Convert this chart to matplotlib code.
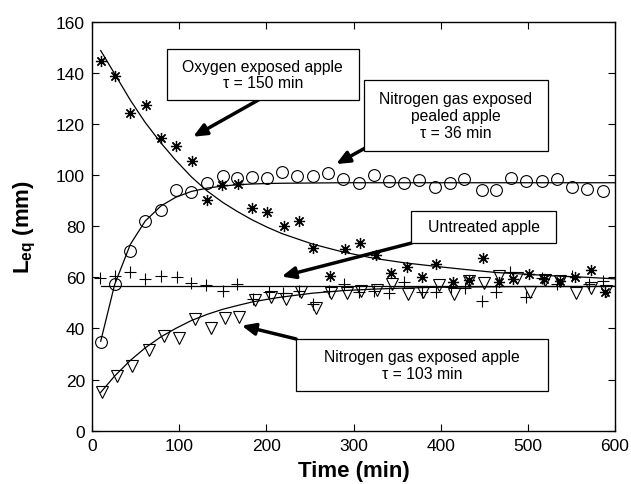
import numpy as np
import matplotlib.pyplot as plt
from matplotlib.patches import Rectangle

plt.rcParams['font.family'] = ['Liberation Sans', 'DejaVu Sans']
plt.rcParams['mathtext.fontset'] = 'custom'
plt.rcParams['mathtext.rm'] = 'Liberation Sans'
plt.rcParams['mathtext.bf'] = 'Liberation Sans:bold'

# oxygen exposed apple (asterisks)
t_oxy = [10, 26, 44, 62, 79, 96, 115, 132, 149, 167, 184, 201, 220, 238, 254, 273, 290,
         308, 326, 343, 361, 378, 395, 414, 432, 448, 467, 483, 501, 519, 537, 554, 573, 589]
L_oxy = [144.5, 138.6, 124.3, 127.5, 114.4, 111.5, 105.5, 90.3, 96, 96.5, 87, 85.7, 80, 82.2,
         71.5, 60.7, 71, 73.3, 68.6, 61.5, 64.2, 60, 65.3, 58, 59, 67.4, 58.3, 59.3, 61.3, 59.3,
         58.7, 60, 63, 54.4]

# nitrogen gas exposed pealed apple (circles)
t_peal = [10, 26, 44, 61, 79, 96, 114, 132, 150, 166, 183, 201, 218, 235, 253, 271, 288,
          306, 324, 341, 358, 375, 394, 411, 427, 447, 463, 481, 498, 516, 533, 551, 568, 586]
L_peal = [34.6, 57.4, 70.4, 82, 86.3, 94.3, 93.3, 96.8, 99.5, 98.7, 99.4, 98.9, 101.2, 99.5,
          99.5, 100.7, 98.3, 96.8, 100.2, 97.6, 96.8, 98.2, 95.5, 96.8, 98.5, 94.3, 94.3, 98.9,
          97.8, 97.8, 98.5, 95.2, 94.6, 93.7]

# untreated apple (plus)
t_untr = [9, 26, 44, 61, 79, 97, 114, 131, 150, 166, 185, 203, 219, 238, 254, 272, 289,
          306, 324, 341, 358, 378, 395, 412, 428, 447, 464, 480, 498, 516, 533, 551, 570, 586]
L_untr = [59.6, 60.6, 62, 59.4, 60.6, 60, 57.8, 57, 54.8, 57.4, 51.7, 54.3, 53.7, 54.8, 49.5,
          54.7, 57.4, 54.4, 54.8, 53.9, 58.3, 54.4, 54.1, 56.1, 55.7, 50.9, 54.4, 62, 52.2, 59.6,
          57.4, 60.6, 57.4, 58.7]

# nitrogen gas exposed apple (triangles)
t_nit = [11, 29, 46, 65, 83, 100, 118, 136, 152, 169, 187, 205, 222, 240, 257, 274, 292,
         309, 327, 344, 363, 380, 398, 415, 433, 450, 467, 487, 503, 520, 537, 555, 573, 590]
L_nit = [15.3, 21.5, 25.4, 31.7, 37.2, 36.4, 43.7, 40.3, 44, 44.4, 51.1, 52.4, 51.5, 54.4, 47.9,
         53.8, 53.8, 54.8, 55.2, 57.4, 53.5, 54.1, 57.1, 53.5, 58.7, 57.8, 60.6, 59.6, 54.4, 59.1,
         58.7, 53.9, 55.7, 54.8]

# fitted curves
t_fit = [10, 26, 44, 61, 79, 96, 114, 132, 150, 166, 183, 201, 218, 253, 288, 324, 358,
         394, 427, 463, 498, 533, 568, 600]
fit_oxy = [148.7, 139.6, 129.3, 120.6, 112.6, 105.8, 99.3, 93.8, 89.3, 85.9, 82.6, 79.6, 77.1,
           73.0, 69.9, 67.4, 65.7, 64.3, 63.1, 61.9, 61.2, 60.5, 60.0, 59.4]
fit_peal = [35.0, 57.2, 72.9, 82.0, 87.9, 91.3, 93.6, 94.9, 95.7, 96.2, 96.5, 96.7, 96.8,
            96.9, 97.0, 97.0, 97.0, 97.0, 97.0, 97.0, 97.0, 97.0, 97.0, 97.0]
fit_nit = [15.0, 21.4, 27.5, 32.4, 36.7, 40.0, 43.1, 45.5, 47.5, 48.9, 50.3, 51.4, 52.3,
           53.8, 54.8, 55.4, 55.8, 56.1, 56.2, 56.3, 56.4, 56.4, 56.4, 56.5]
t_line = [10, 600]
fit_untr = [56.5, 56.5]

# annotation labels
labels = ['Oxygen exposed apple\n\u03c4 = 150 min',
          'Nitrogen gas exposed\npealed apple\n\u03c4 = 36 min',
          'Untreated apple',
          'Nitrogen gas exposed apple\n\u03c4 = 103 min']

fig = plt.figure(figsize=(6.31, 4.85), dpi=100)
ax = fig.add_axes([0.1458, 0.1099, 0.8289, 0.8433])

lw = 0.9
ax.plot(t_fit, fit_oxy, color='black', lw=lw)
ax.plot(t_fit, fit_peal, color='black', lw=lw)
ax.plot(t_fit, fit_nit, color='black', lw=lw)
ax.plot(t_line, fit_untr, color='black', lw=lw)

ax.plot(t_oxy, L_oxy, ls='none', marker=(8, 2, 0), ms=8, mec='black', mew=0.9)
ax.plot(t_peal, L_peal, ls='none', marker='o', ms=8.5, mfc='none', mec='black', mew=0.8)
ax.plot(t_untr, L_untr, ls='none', marker='+', ms=9, mec='black', mew=0.8)
ax.plot(t_nit, L_nit, ls='none', marker='v', ms=8.5, mfc='none', mec='black', mew=0.8)

ax.set_xlim(0, 600)
ax.set_ylim(0, 160)
ax.set_xticks(range(0, 601, 100))
ax.set_yticks(range(0, 161, 20))
ax.tick_params(direction='in', length=5, width=0.8, labelsize=12.5,
               top=True, right=True, pad=5)
for s in ax.spines.values():
    s.set_linewidth(1.0)

ax.set_xlabel('Time (min)', fontsize=16, fontweight='bold', labelpad=5)
ax.set_ylabel(r'$\mathbf{L_{eq}}$ (mm)', fontsize=16, fontweight='bold', labelpad=13)

arrow = dict(arrowstyle='-|>,head_length=0.8,head_width=0.35', color='black', lw=2.5,
             shrinkA=0, shrinkB=0)
fs = 11.3

# boxes: (x0, x1, y0, y1) in data units
boxes = [(86, 306, 129.4, 149.3),
         (312, 523, 109.6, 137.2),
         (366.5, 532.8, 73.4, 86.0),
         (234, 523, 15.5, 35.9)]
arrows = [((191, 129.4), (116, 115)),
          ((313, 110.5), (280, 104.3)),
          ((366.5, 73.4), (217.5, 60.3)),
          ((234, 35.9), (171.7, 41.1))]

for (x0, x1, y0, y1), lab, (a0, a1) in zip(boxes, labels, arrows):
    ax.annotate('', xy=a1, xytext=a0, arrowprops=arrow, zorder=4)
    ax.add_patch(Rectangle((x0, y0), x1 - x0, y1 - y0, fc='white', ec='black',
                           lw=0.9, zorder=5))
    ax.text((x0 + x1) / 2, (y0 + y1) / 2, lab, ha='center', va='center', fontsize=fs,
            linespacing=1.15, zorder=6)

fig.savefig('out.png', dpi=100)
